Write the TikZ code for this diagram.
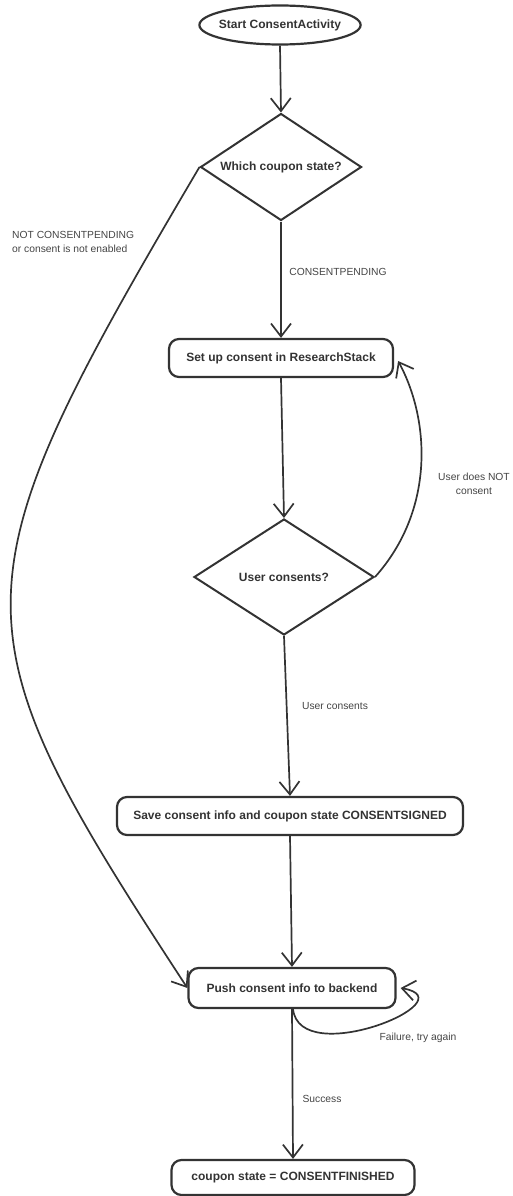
\documentclass[tikz,border=0pt]{standalone}
\usepackage{fontspec}
\setmainfont{Liberation Sans}
\usetikzlibrary{shapes.geometric,arrows.meta}
\definecolor{ink}{HTML}{333333}
\definecolor{labelgray}{HTML}{444444}
\begin{document}
\begin{tikzpicture}[x=1pt,y=-1pt,
  every node/.style={text=ink},
  boxnode/.style={draw=ink,line width=2.2pt,rounded corners=10pt,inner sep=0pt,
    font=\bfseries\fontsize{12}{14}\selectfont},
  decision/.style={draw=ink,line width=2pt,shape=diamond,aspect=1.5,inner sep=0pt,
    font=\bfseries\fontsize{12}{14}\selectfont},
  flow/.style={draw=ink,line width=1.7pt,-{Straight Barb[length=13pt,width=20pt,line width=1.7pt]}},
  lbl/.style={text=labelgray,font=\fontsize{10.3}{14}\selectfont,inner sep=0pt}]
\useasboundingbox (0,0) rectangle (512,1196);

% start and decision nodes
\node[draw=ink,line width=2.2pt,shape=ellipse,inner xsep=-4pt,minimum width=160pt,minimum height=39pt,
  font=\bfseries\fontsize{12}{14}\selectfont] (start) at (280,25) {Start ConsentActivity};
\node[decision,minimum width=161pt,minimum height=107pt] (d1) at (281,167) {Which coupon state?};
\node[boxnode,minimum width=224pt,minimum height=38pt] (b2) at (281,358) {Set up consent in ResearchStack};
\node[decision,minimum width=180pt,minimum height=116pt] (d2) at (284,577) {User consents?};
\node[boxnode,minimum width=346pt,minimum height=38pt] (b3) at (290,816) {Save consent info and coupon state CONSENTSIGNED};
\node[boxnode,minimum width=207pt,minimum height=40pt] (b4) at (292,988) {Push consent info to backend};
\node[boxnode,minimum width=243pt,minimum height=35pt] (b5) at (293,1177.5) {coupon state = CONSENTFINISHED};

% main flow
\draw[flow] (start.south) -- (d1.north);
\draw[flow] (d1.south) -- (b2.north);
\draw[flow] (b2.south) -- (d2.north);
\draw[flow] (d2.south) -- (b3.north);
\draw[flow] (b3.south) -- (b4.north);
\draw[flow] (b4.south) -- (b5.north);

% side branches
\draw[flow] (d1.west) .. controls (-50,590) and (-50,625) .. (b4.west);
\draw[flow] (d2.east) .. controls (435,510) and (430,420) .. ([xshift=4pt,yshift=-3pt]b2.east);
\draw[flow] ([xshift=1pt]b4.south) .. controls (300,1070) and (470,1000) .. ([xshift=4pt]b4.east);

% connector labels
\node[lbl,anchor=west,align=left] (lnot) at (12,242) {NOT CONSENTPENDING\\or consent is not enabled};
\node[lbl] (lpend) at (338,272) {CONSENTPENDING};
\node[lbl,align=center] (lno) at (474,484) {User does NOT\\consent};
\node[lbl] (lyes) at (335,706) {User consents};
\node[lbl] (lfail) at (418,1038) {Failure, try again};
\node[lbl] (lok) at (322,1099) {Success};
\end{tikzpicture}
\end{document}
